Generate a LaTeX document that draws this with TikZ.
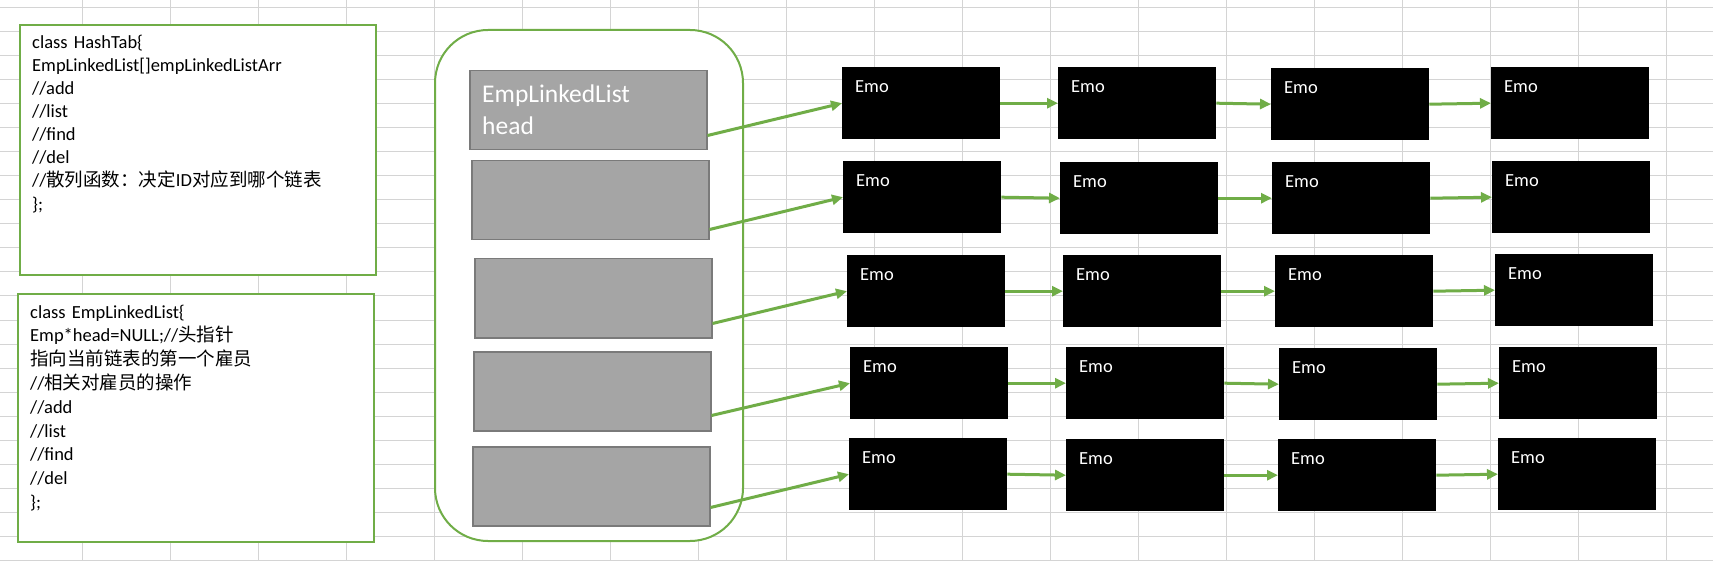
\documentclass[tikz,border=0pt]{standalone}
\usepackage{fontspec}
\setmainfont{Carlito}
\newfontfamily\cjk{Noto Sans CJK SC}
\usepackage{xcolor}
\usepackage{tikz}
\usetikzlibrary{arrows.meta}
\definecolor{cellgreen}{HTML}{70AD47}
\definecolor{cellgray}{HTML}{A5A5A5}
\definecolor{celledge}{HTML}{7A7A7A}
\definecolor{gridgray}{HTML}{D4D4D4}
\newcommand{\codefont}{\fontsize{18.5pt}{23.1pt}\selectfont}
\newcommand{\widecodefont}{\fontsize{18.5pt}{23.8pt}\selectfont}
\newcommand{\headfont}{\fontsize{25.5pt}{32pt}\selectfont}

\tikzset{
  gridline/.style={draw=gridgray, line width=1pt},
  codebox/.style={draw=cellgreen, line width=2pt, fill=white, anchor=north west,
    minimum width=356pt, inner sep=0pt},
  codetext/.style={anchor=north west, inner sep=0pt, text width=330pt,
    align=left, font=\codefont},
  tablebox/.style={draw=cellgreen, line width=2pt, fill=white, rounded corners=53pt,
    minimum width=308pt, minimum height=511pt, anchor=north west, inner sep=0pt},
  bucket/.style={draw=celledge, line width=1.5pt, fill=cellgray, anchor=north west,
    minimum width=237pt, minimum height=79pt, inner sep=0pt},
  headtext/.style={anchor=north west, inner sep=0pt, text width=200pt, align=left,
    font=\headfont, text=white},
  emo/.style={fill=black, text=white, font=\codefont, anchor=north west,
    inner xsep=13pt, inner ysep=0pt, text width=132pt, text height=25pt,
    text depth=47pt, align=left},
  link/.style={draw=cellgreen, line width=3pt, -{Triangle[length=11pt,width=10pt]}}
}

\begin{document}
\begin{tikzpicture}[x=1pt, y=-1pt]
\useasboundingbox (0,0) rectangle (1713,561);
\fill[white] (0,0) rectangle (1713,561);
% sheet grid
\foreach \gx in {82,170,...,1666} \draw[gridline] (\gx,0) -- (\gx,561);
\foreach \gy in {8,32,...,560} \draw[gridline] (0,\gy) -- (1713,\gy);

% class notes
\node[codebox, minimum height=250pt] (hashtab) at (19,24) {};
\node[codetext] (hashtext) at ([xshift=13pt,yshift=-8pt]hashtab.north west)
  {\strut class HashTab\{\\
   EmpLinkedList[]empLinkedListArr\\
   //add\\
   //list\\
   //find\\
   //del\\
   //{\cjk 散列函数：决定}ID{\cjk 对应到哪个链表}\\
   \};};
\node[codebox, minimum height=248pt] (emplist) at (17,293) {};
\node[codetext, font=\widecodefont] (emptext) at ([xshift=13pt,yshift=-8.3pt]emplist.north west)
  {\strut class EmpLinkedList\{\\
   Emp*head=NULL;//{\cjk 头指针}\\
   {\cjk 指向当前链表的第一个雇员}\\
   //{\cjk 相关对雇员的操作}\\
   //add\\
   //list\\
   //find\\
   //del\\
   \};};

% hash table
\node[tablebox] (table) at (434,29) {};
\node[bucket] (g1) at (469,70) {};
\node[bucket] (g2) at (471,160) {};
\node[bucket] (g3) at (474,258) {};
\node[bucket] (g4) at (473,351) {};
\node[bucket] (g5) at (472,446) {};
\node[headtext] (headlabel) at ([xshift=13pt,yshift=-9.6pt]g1.north west)
  {\strut EmpLinkedList\\head};

% linked lists
\node[emo] (e11) at (842,67) {Emo};
\node[emo] (e12) at (1058,67) {Emo};
\node[emo] (e13) at (1271,68) {Emo};
\node[emo] (e14) at (1491,67) {Emo};
\node[emo] (e21) at (843,161) {Emo};
\node[emo] (e22) at (1060,162) {Emo};
\node[emo] (e23) at (1272,162) {Emo};
\node[emo] (e24) at (1492,161) {Emo};
\node[emo] (e31) at (847,255) {Emo};
\node[emo] (e32) at (1063,255) {Emo};
\node[emo] (e33) at (1275,255) {Emo};
\node[emo] (e34) at (1495,254) {Emo};
\node[emo] (e41) at (850,347) {Emo};
\node[emo] (e42) at (1066,347) {Emo};
\node[emo] (e43) at (1279,348) {Emo};
\node[emo] (e44) at (1499,347) {Emo};
\node[emo] (e51) at (849,438) {Emo};
\node[emo] (e52) at (1066,439) {Emo};
\node[emo] (e53) at (1278,439) {Emo};
\node[emo] (e54) at (1498,438) {Emo};

% heads
\draw[link] ([yshift=15pt]g1.south east) -- (e11.west);
\draw[link] ([yshift=11pt]g2.south east) -- (e21.west);
\draw[link] ([yshift=15pt]g3.south east) -- (e31.west);
\draw[link] ([yshift=16pt]g4.south east) -- (e41.west);
\draw[link] ([yshift=19pt]g5.south east) -- (e51.west);
% next pointers
\draw[link] (e11.east) -- (e12.west);
\draw[link] (e12.east) -- (e13.west);
\draw[link] (e13.east) -- (e14.west);
\draw[link] (e21.east) -- (e22.west);
\draw[link] (e22.east) -- (e23.west);
\draw[link] (e23.east) -- (e24.west);
\draw[link] (e31.east) -- (e32.west);
\draw[link] (e32.east) -- (e33.west);
\draw[link] (e33.east) -- (e34.west);
\draw[link] (e41.east) -- (e42.west);
\draw[link] (e42.east) -- (e43.west);
\draw[link] (e43.east) -- (e44.west);
\draw[link] (e51.east) -- (e52.west);
\draw[link] (e52.east) -- (e53.west);
\draw[link] (e53.east) -- (e54.west);
\end{tikzpicture}
\end{document}
